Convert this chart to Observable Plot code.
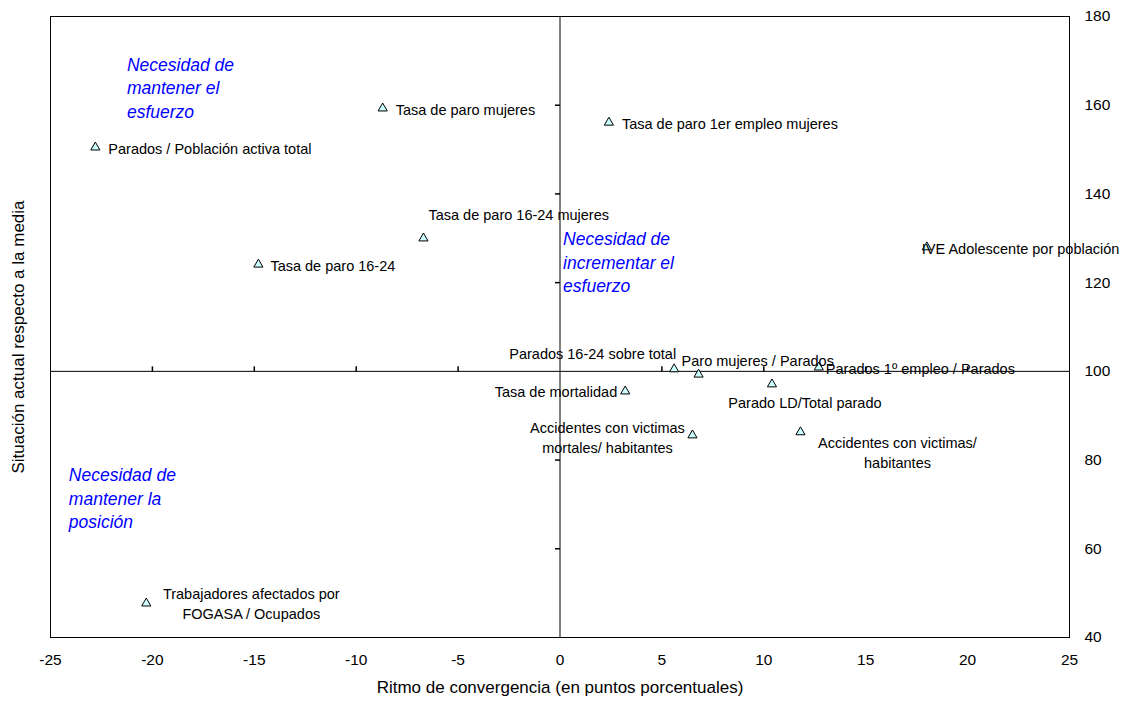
<!DOCTYPE html>
<html><head><meta charset="utf-8">
<script src="https://cdn.jsdelivr.net/npm/d3@7"></script>
<script src="https://cdn.jsdelivr.net/npm/@observablehq/plot@0.6"></script>
<style>body{margin:0;background:#fff} svg{display:block}</style>
</head><body><div id="chart"></div>
<script>
// ---- data ----
const indicadores = [
  "Tasa de paro mujeres",
  "Parados / Población activa total",
  "Tasa de paro 1er empleo mujeres",
  "Tasa de paro 16-24 mujeres",
  "Tasa de paro 16-24",
  "IVE Adolescente por población",
  "Parados 16-24 sobre total",
  "Paro mujeres / Parados",
  "Parados 1º empleo / Parados",
  "Parado LD/Total parado",
  "Tasa de mortalidad",
  "Accidentes con victimas\nmortales/ habitantes",
  "Accidentes con victimas/\nhabitantes",
  "Trabajadores afectados por\nFOGASA / Ocupados"
];
const ritmo = [-8.7, -22.8, 2.4, -6.7, -14.8, 18.0, 5.6, 6.8, 12.7, 10.4, 3.2, 6.5, 11.8, -20.3];
const situacion = [159.3, 150.5, 156.1, 130.0, 124.1, 128.0, 100.5, 99.3, 100.9, 97.1, 95.5, 85.6, 86.3, 47.7];

const xTicks = [-25, -20, -15, -10, -5, 0, 5, 10, 15, 20, 25];
const yTicks = [40, 60, 80, 100, 120, 140, 160, 180];

const cuadrantes = [
  "Necesidad de\nmantener el\nesfuerzo",
  "Necesidad de\nincrementar el\nesfuerzo",
  "Necesidad de\nmantener la\nposición"
];
const cuadranteX = [-21.25, 0.15, -24.1];
const cuadranteY = [164.2, 124.8, 71.6];

const xTitle = "Ritmo de convergencia (en puntos porcentuales)";
const yTitle = "Situación actual respecto a la media";

// ---- label placement (pixels, relative to the marker) ----
const labelLayout = [
  {anchor: "start", dx: 13, dy: 0},
  {anchor: "start", dx: 13, dy: 0},
  {anchor: "start", dx: 13, dy: 0},
  {anchor: "start", dx: 5, dy: -25},
  {anchor: "start", dx: 12, dy: 0},
  {anchor: "start", dx: -5, dy: 0},
  {anchor: "end", dx: 2, dy: -17},
  {anchor: "start", dx: -17, dy: -15},
  {anchor: "start", dx: 7, dy: 0},
  {anchor: "middle", dx: 33, dy: 17},
  {anchor: "end", dx: -8, dy: -1},
  {anchor: "middle", dx: -85, dy: 1},
  {anchor: "middle", dx: 97, dy: 19},
  {anchor: "middle", dx: 105, dy: -1}
];

const puntos = indicadores.map((n, i) => ({name: n, x: ritmo[i], y: situacion[i]}));
const notas = cuadrantes.map((t, i) => ({text: t, x: cuadranteX[i], y: cuadranteY[i]}));

const tickUp = {draw(ctx) { ctx.moveTo(0, 0); ctx.lineTo(0, -5); }};
const tickLeft = {draw(ctx) { ctx.moveTo(0, 0); ctx.lineTo(-5, 0); }};

const FONT = "'Liberation Sans', Arial, sans-serif";

const labelMarks = puntos.map((p, i) => Plot.text([p], {
  x: "x", y: "y", text: "name",
  textAnchor: labelLayout[i].anchor,
  dx: labelLayout[i].dx, dy: labelLayout[i].dy,
  lineHeight: 1.38, fontSize: 14.5, fill: "#000"
}));

const chart = Plot.plot({
  width: 1128, height: 704,
  marginLeft: 50, marginRight: 59, marginTop: 16, marginBottom: 67,
  style: {fontFamily: FONT, fontSize: "15px", background: "#fff", color: "#000"},
  x: {domain: [-25, 25]},
  y: {domain: [40, 180]},
  marks: [
    Plot.frame({stroke: "#000", strokeWidth: 1}),
    Plot.ruleX([0], {stroke: "#000", strokeWidth: 1}),
    Plot.ruleY([100], {stroke: "#000", strokeWidth: 1}),
    Plot.dot(xTicks.filter(t => t !== 0 && Math.abs(t) !== 25), {x: d => d, y: () => 100, symbol: tickUp, stroke: "#000", fill: "none", r: 3}),
    Plot.dot(yTicks.filter(t => t !== 100 && t !== 40 && t !== 180), {x: () => 0, y: d => d, symbol: tickLeft, stroke: "#000", fill: "none", r: 3}),
    Plot.axisX({ticks: xTicks, tickSize: 0, tickPadding: 16, label: null, fontSize: 15.5, tickFormat: d => String(d)}),
    Plot.axisY({anchor: "right", ticks: yTicks, tickSize: 0, tickPadding: 15, label: null, fontSize: 15.5, textAnchor: "start"}),
    Plot.text([xTitle], {frameAnchor: "bottom", text: d => d, dy: 55, fontSize: 17}),
    Plot.text([yTitle], {frameAnchor: "left", textAnchor: "middle", text: d => d, rotate: -90, dx: -32, dy: 10, fontSize: 17}),
    Plot.text(notas, {x: "x", y: "y", text: "text", textAnchor: "start", lineAnchor: "middle", lineHeight: 1.34, fontSize: 17.5, fontStyle: "italic", fill: "#0000FF"}),
    Plot.dot(puntos, {x: "x", y: "y", symbol: "triangle", r: 3.4, fill: "#CCFFFF", stroke: "#000", strokeWidth: 1}),
    ...labelMarks
  ]
});
document.getElementById("chart").appendChild(chart);
</script>
</body></html>
